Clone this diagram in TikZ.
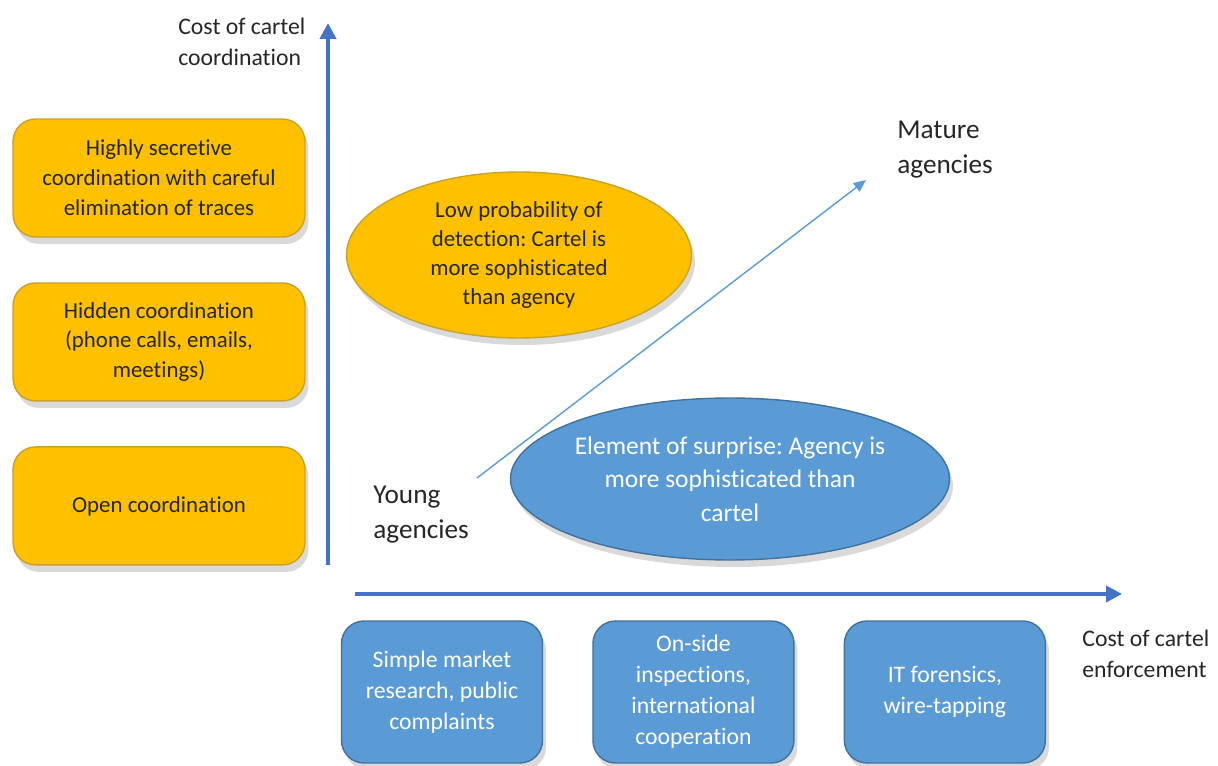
\documentclass[tikz,border=0pt]{standalone}
\usepackage{fontspec}
\setmainfont{Carlito}[Ligatures={NoCommon}]
\usetikzlibrary{arrows.meta,positioning,shapes.geometric,shadows}

\definecolor{ylwfill}{HTML}{FFC000}
\definecolor{ylwline}{HTML}{C9A227}
\definecolor{bluefill}{HTML}{5B9BD5}
\definecolor{blueline}{HTML}{41719C}
\definecolor{axisblue}{HTML}{4472C4}
\definecolor{txtgray}{HTML}{262626}

\frenchspacing

\begin{document}
\begin{tikzpicture}[x=0.02cm,y=-0.02cm,node distance=3.28cm,on grid,
    font=\fontsize{13}{17}\selectfont,text=txtgray]
  \tikzstyle{boxshadow}=[drop shadow={opacity=0.3,shadow xshift=2pt,shadow yshift=-4pt}]
  \tikzstyle{coordbox}=[rectangle,rounded corners=0.45cm,draw=ylwline,fill=ylwfill,line width=0.8pt,
    minimum width=5.84cm,minimum height=2.36cm,align=center,boxshadow]
  \tikzstyle{toolbox}=[rectangle,rounded corners=0.45cm,draw=blueline,fill=bluefill,text=white,line width=0.8pt,
    minimum width=4.02cm,minimum height=2.84cm,align=center,boxshadow,font=\fontsize{13.5}{17.6}\selectfont]
  \tikzstyle{axisline}=[draw=axisblue,line width=2.6pt,-{Triangle[length=9pt,width=9pt]}]
  \tikzstyle{lbl}=[anchor=west,align=left,inner sep=0pt,font=\fontsize{13.5}{17.8}\selectfont]

  \useasboundingbox (0,0) rectangle (1218,766);

  % axes
  \coordinate (o_y) at (328,565);
  \coordinate (t_y) at (328,23);
  \coordinate (o_x) at (355,594);
  \coordinate (t_x) at (1122,594);
  \draw[axisline] (o_y) -- (t_y);
  \draw[axisline] (o_x) -- (t_x);

  % coordination of the cartel
  \node[coordbox] (c_3) at (159,178) {Highly secretive\\coordination with careful\\elimination of traces};
  \node[coordbox] (c_2) [below=of c_3] {Hidden coordination\\(phone calls, emails,\\meetings)};
  \node[coordbox] (c_1) [below=of c_2] {Open coordination};

  % tools of the agency
  \node[toolbox] (e_1) at (442,692) {Simple market\\research, public\\complaints};
  \node[toolbox] (e_2) [right=5.03cm of e_1] {On-side\\inspections,\\international\\cooperation};
  \node[toolbox] (e_3) [right=5.03cm of e_2] {IT forensics,\\wire-tapping};

  \node[ellipse,draw=ylwline,fill=ylwfill,line width=0.8pt,inner sep=0pt,minimum width=6.9cm,
    minimum height=3.32cm,align=center,boxshadow,font=\fontsize{13}{16.5}\selectfont] (lowdet) at (519,255)
    {Low probability of\\detection: Cartel is\\more sophisticated\\than agency};
  \node[ellipse,draw=blueline,fill=bluefill,text=white,line width=0.8pt,inner sep=0pt,minimum width=8.66cm,
    minimum height=3.24cm,align=center,boxshadow,font=\fontsize{14.5}{19}\selectfont] (surprise) at (730,479)
    {Element of surprise: Agency is\\more sophisticated than\\cartel};

  % labels
  \node[lbl] (ylab) at (178,42) {Cost of cartel\\coordination};
  \node[lbl] (xlab) at (1082,654) {Cost of cartel\\enforcement};
  \node[lbl,font=\fontsize{15.5}{20}\selectfont] (young) at (373,515) {Young\\agencies};
  \node[lbl,font=\fontsize{15.5}{20}\selectfont] (mature) at (897,150) {Mature\\agencies};

  \coordinate (d_0) at (477,478);
  \coordinate (d_1) at (866,180);
  \draw[draw=bluefill,line width=0.8pt,-{Triangle[length=7pt,width=6pt]}] (d_0) -- (d_1);
\end{tikzpicture}
\end{document}
